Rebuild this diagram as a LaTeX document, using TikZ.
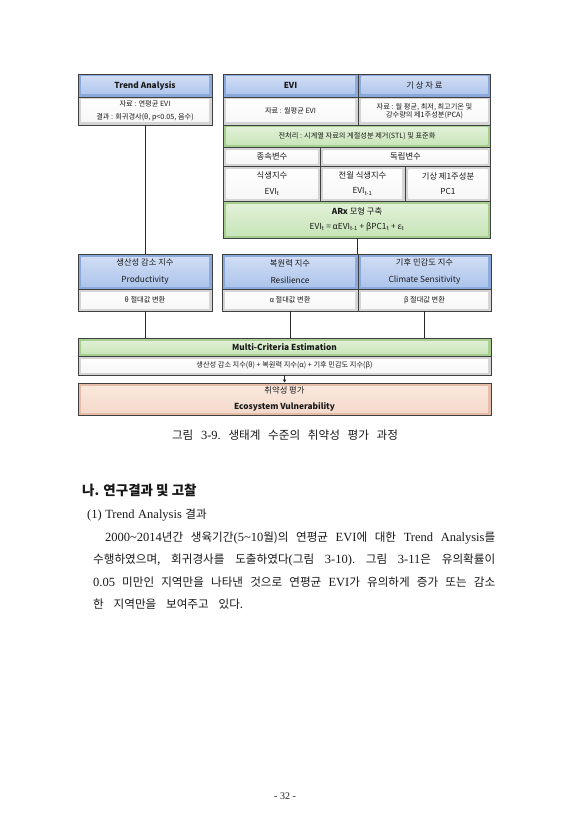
\documentclass[tikz,border=0pt]{standalone}
\usepackage{fontspec}
\setmainfont{Liberation Serif}
\newfontfamily\kr{Noto Sans CJK KR}
\usetikzlibrary{arrows.meta,positioning}

\definecolor{hdrO}{RGB}{138,168,218}
\definecolor{hdrT}{RGB}{212,223,244}
\definecolor{hdrB}{RGB}{170,195,236}
\definecolor{grnO}{RGB}{166,206,142}
\definecolor{grnT}{RGB}{228,242,218}
\definecolor{grnB}{RGB}{198,228,182}
\definecolor{pchO}{RGB}{228,188,168}
\definecolor{pchT}{RGB}{251,234,224}
\definecolor{pchB}{RGB}{243,216,201}
\definecolor{whtO}{RGB}{212,212,212}
\definecolor{whtT}{RGB}{255,255,255}
\definecolor{whtB}{RGB}{246,246,246}

\newcommand{\hg}[1]{{\kr\fontsize{11.6}{14}\selectfont #1}}
\newcommand{\bodyfont}{\fontsize{12.5}{14}\selectfont\frenchspacing\spaceskip 3.5pt plus 40pt\relax}

\begin{document}
\begin{tikzpicture}[x=1pt, y=-1pt,
  cell/.style={draw=black!75, line width=0.7pt, inner sep=0pt, align=center, text=black!90,
    font=\kr\fontsize{7.2}{8.5}\selectfont},
  bevel/.style n args={3}{fill=#1, path picture={
    \fill[top color=#2, bottom color=#3]
      ([shift={(3pt,-3pt)}]path picture bounding box.north west) rectangle
      ([shift={(-3pt,3pt)}]path picture bounding box.south east);}},
  hdr/.style={cell, bevel={hdrO}{hdrT}{hdrB}},
  grn/.style={cell, bevel={grnO}{grnT}{grnB}},
  pch/.style={cell, bevel={pchO}{pchT}{pchB}},
  wht/.style={cell, bevel={whtO}{whtT}{whtB}},
  big/.style={font=\kr\fontsize{8.3}{9.5}\selectfont},
  link/.style={draw=black!85, line width=0.6pt},
  arr/.style={link, -{Latex[length=3pt,width=3.5pt]}},
  body/.style={anchor=west, inner sep=0pt, text=black!90, font=\bodyfont}]
  \useasboundingbox[fill=white] (0,0) rectangle (573,840);
  % Trend analysis
  \node[hdr, big, minimum width=134pt, minimum height=23pt] (tah) at (145,85.5) {\textbf{Trend Analysis}};
  \node[wht, minimum width=134pt, minimum height=28pt] (tac) at (145,111)
    {자료 : 연평균 EVI\\[4pt]결과 : 회귀경사(θ, p<0.05, 음수)};
  % Input data
  \node[hdr, big, minimum width=135pt, minimum height=23pt] (evih) at (290.5,85.5) {\textbf{EVI}};
  \node[hdr, big, minimum width=132pt, minimum height=23pt] (climh) at (424.5,85.5) {기 상 자 료};
  \node[wht, minimum width=135pt, minimum height=28pt] (evic) at (290.5,111) {자료 : 월평균 EVI};
  \node[wht, minimum width=132pt, minimum height=28pt] (climc) at (424.5,111)
    {자료 : 월 평균, 최저, 최고기온 및\\강수량의 제1주성분(PCA)};
  \node[grn, minimum width=267pt, minimum height=22pt] (pre) at (357,136)
    {전처리 : 시계열 자료의 계절성분 제거(STL) 및 표준화};
  % Variables
  \node[wht, big, minimum width=97pt, minimum height=19pt] (dep) at (272,156.5) {종속변수};
  \node[wht, big, minimum width=170pt, minimum height=19pt] (indep) at (405.5,156.5) {독립변수};
  \node[wht, big, minimum width=97pt, minimum height=35pt] (veg) at (272,183.5)
    {식생지수\\[6pt]EVI\textsubscript{t}};
  \node[wht, big, minimum width=85pt, minimum height=35pt] (prev) at (362.5,183.5)
    {전월 식생지수\\[6pt]EVI\textsubscript{t-1}};
  \node[wht, big, minimum width=85pt, minimum height=35pt] (pca) at (448,183.5)
    {기상 제1주성분\\[6pt]PC1};
  \node[grn, big, minimum width=267pt, minimum height=37pt] (arx) at (357,219.5)
    {\textbf{ARx} 모형 구축\\[5pt]EVI\textsubscript{t} = αEVI\textsubscript{t-1} + βPC1\textsubscript{t} + ε\textsubscript{t}};
  % Indices
  \node[hdr, big, minimum width=134pt, minimum height=35pt] (prodh) at (145,271.5)
    {생산성 감소 지수\\[7pt]Productivity};
  \node[wht, minimum width=134pt, minimum height=22pt] (prodc) at (145,300) {θ 절대값 변환};
  \node[hdr, big, minimum width=136pt, minimum height=35pt] (resh) at (290,271.5)
    {복원력 지수\\[7pt]Resilience};
  \node[wht, minimum width=136pt, minimum height=22pt] (resc) at (290,300) {α 절대값 변환};
  \node[hdr, big, minimum width=133pt, minimum height=35pt] (csh) at (424.5,271.5)
    {기후 민감도 지수\\[7pt]Climate Sensitivity};
  \node[wht, minimum width=133pt, minimum height=22pt] (csc) at (424.5,300) {β 절대값 변환};
  % Estimation
  \node[grn, big, minimum width=413pt, minimum height=18pt] (mceh) at (284.5,347)
    {\textbf{Multi-Criteria Estimation}};
  \node[wht, minimum width=413pt, minimum height=19pt] (mcec) at (284.5,365.5)
    {생산성 감소 지수(θ) + 복원력 지수(α) + 기후 민감도 지수(β)};
  \node[pch, big, minimum width=413pt, minimum height=32pt] (vul) at (284.5,399)
    {취약성 평가\\[6pt]\textbf{Ecosystem Vulnerability}};
  % Connectors
  \draw[link] (tac.south) -- (prodh.north);
  \draw[link] (arx.south -| csh.north west) -- (csh.north west);
  \draw[link] (prodc.south) -- (prodc.south |- mceh.north);
  \draw[link] (resc.south) -- (resc.south |- mceh.north);
  \draw[link] (csc.south) -- (csc.south |- mceh.north);
  \draw[arr] (mcec.south) -- (vul.north);
  % Page text
  \node[body, anchor=center] (cap) at (285,435)
    {\makebox[226pt][s]{\hg{그림} 3-9. \hg{생태계 수준의 취약성 평가 과정}}};
  \node[body, font=\kr\bfseries\fontsize{13.5}{15}\selectfont] (sec) at (82,490) {나. 연구결과 및 고찰};
  \node[body] (sub) at (87,515) {(1) Trend Analysis \hg{결과}};
  \node[body] (p1) at (105,538)
    {\makebox[390pt][s]{2000\textasciitilde2014\hg{년간 생육기간}(5\textasciitilde10\hg{월)의 연평균} EVI\hg{에 대한} Trend Analysis\hg{를}}};
  \node[body] (p2) at (93,560)
    {\makebox[402pt][s]{\hg{수행하였으며, 회귀경사를 도출하였다}(\hg{그림} 3-10). \hg{그림} 3-11\hg{은 유의확률이}}};
  \node[body] (p3) at (93,582)
    {\makebox[402pt][s]{0.05 \hg{미만인 지역만을 나타낸 것으로 연평균} EVI\hg{가 유의하게 증가 또는 감소}}};
  \node[body] (p4) at (93,604) {\makebox[150pt][s]{\hg{한 지역만을 보여주고 있다.}}};
  \node[body, anchor=center, font=\fontsize{10}{12}\selectfont] (pg) at (285,796) {- 32 -};
\end{tikzpicture}
\end{document}
